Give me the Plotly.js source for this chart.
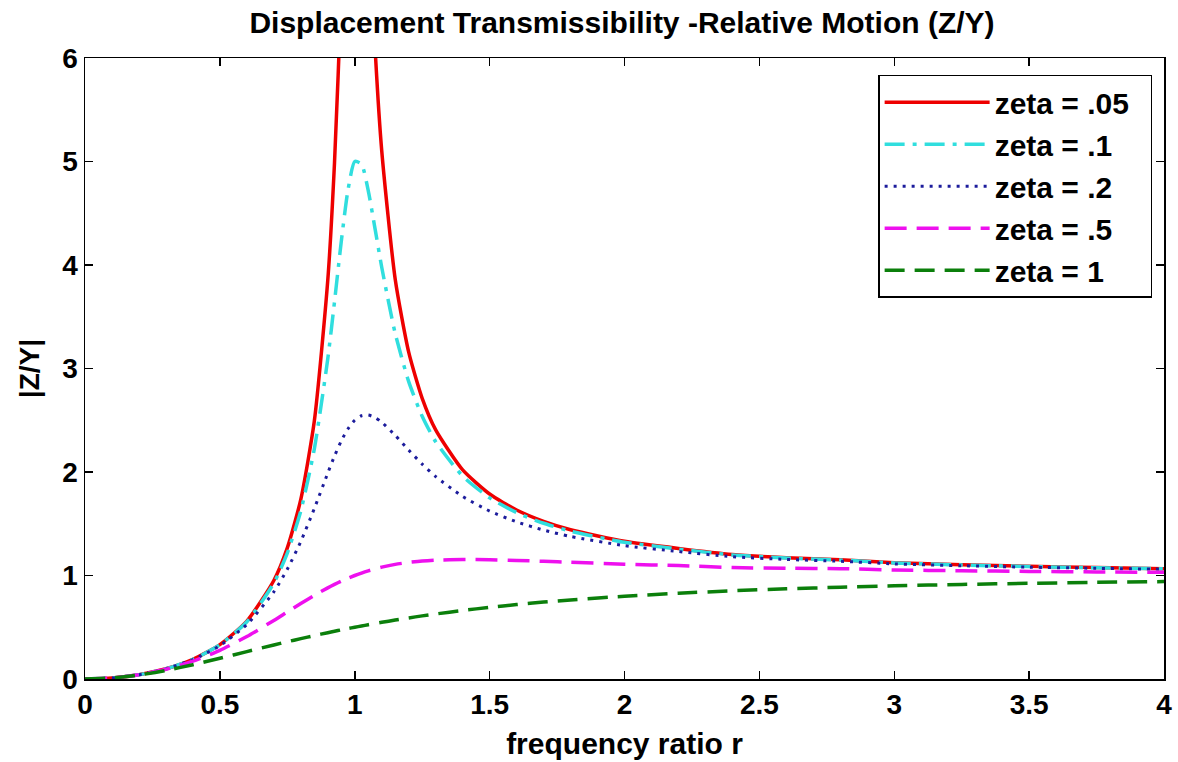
<!DOCTYPE html>
<html>
<head>
<meta charset="utf-8">
<script src="https://cdn.plot.ly/plotly-3.0.1.min.js"></script>
<style>html,body{margin:0;padding:0;background:#fff;}#chart{width:1178px;height:762px;}</style>
</head>
<body>
<div id="chart"></div>
<script>
// frequency ratio r
var r = [0, 0.1, 0.2, 0.3, 0.4, 0.5, 0.6, 0.7, 0.75, 0.8, 0.85, 0.9, 0.925, 0.95, 0.975, 1.0,
         1.025, 1.05, 1.075, 1.1, 1.15, 1.2, 1.25, 1.3, 1.4, 1.5, 1.6, 1.7, 1.8, 2.0,
         2.2, 2.4, 2.6, 2.8, 3.0, 3.25, 3.5, 3.75, 4.0];

var zeta005 = [0, 0.0101, 0.0417, 0.0989, 0.1903, 0.3326, 0.5600, 0.9518, 1.2672, 1.7355, 2.4894, 3.8528, 4.990, 6.630, 8.698, 10.0,
               9.190, 7.513, 6.110, 5.104, 3.8626, 3.1574, 2.7116, 2.4069, 2.0203, 1.7872, 1.6325, 1.5230, 1.4418, 1.3304,
               1.2616, 1.2035, 1.1724, 1.1520, 1.1242, 1.1039, 1.0884, 1.0761, 1.0663];
var zeta01 = [0, 0.0101, 0.0416, 0.0987, 0.1896, 0.3304, 0.5528, 0.9265, 1.2162, 1.6246, 2.2201, 3.0948, 3.6461, 4.2260, 4.7259, 5.0,
              4.9755, 4.7180, 4.3541, 3.9784, 3.3387, 2.8731, 2.5384, 2.2920, 1.9600, 1.7503, 1.6076, 1.5049, 1.4281, 1.3216,
              1.2554, 1.1990, 1.1689, 1.1490, 1.1219, 1.1020, 1.0868, 1.0748, 1.0651];
var zeta02 = [0, 0.0101, 0.0415, 0.0981, 0.1871, 0.3221, 0.5267, 0.8422, 1.0604, 1.3287, 1.6463, 1.9899, 2.1543, 2.3005, 2.4182, 2.5,
              2.5432, 2.5502, 2.5271, 2.4818, 2.3541, 2.2115, 2.0761, 1.9560, 1.7635, 1.6227, 1.5182, 1.4388, 1.3770, 1.2883,
              1.2316, 1.1814, 1.1549, 1.1376, 1.1125, 1.0945, 1.0806, 1.0695, 1.0607];
var zeta05 = [0, 0.0101, 0.0408, 0.0939, 0.1720, 0.2774, 0.4104, 0.5658, 0.6478, 0.7295, 0.8080, 0.8806, 0.9139, 0.9450, 0.9738, 1.0,
              1.0238, 1.0450, 1.0639, 1.0805, 1.1073, 1.1267, 1.1399, 1.1483, 1.1546, 1.1523, 1.1456, 1.1369, 1.1275, 1.1094,
              1.0958, 1.0769, 1.0697, 1.0661, 1.0534, 1.0458, 1.0397, 1.0348, 1.0307];
var zeta1 = [0, 0.0099, 0.0385, 0.0826, 0.1379, 0.2000, 0.2647, 0.3289, 0.3600, 0.3902, 0.4194, 0.4475, 0.4611, 0.4744, 0.4873, 0.5,
             0.5123, 0.5244, 0.5361, 0.5475, 0.5694, 0.5902, 0.6098, 0.6283, 0.6622, 0.6923, 0.7191, 0.7429, 0.7642, 0.8000,
             0.8288, 0.8521, 0.8711, 0.8869, 0.9000, 0.9135, 0.9245, 0.9336, 0.9412];

var names = ['zeta = .05', 'zeta = .1', 'zeta = .2', 'zeta = .5', 'zeta = 1'];
var xTicks = [0, 0.5, 1, 1.5, 2, 2.5, 3, 3.5, 4];
var xTickText = ['0', '0.5', '1', '1.5', '2', '2.5', '3', '3.5', '4'];
var yTicks = [0, 1, 2, 3, 4, 5, 6];
var yTickText = ['0', '1', '2', '3', '4', '5', '6'];

var series = [zeta005, zeta01, zeta02, zeta05, zeta1];
var styles = [
  {color: '#ee0000', width: 3.5, dash: 'solid'},
  {color: '#30dede', width: 3.5, dash: '20px,8px,4px,8px'},
  {color: '#1c1c9c', width: 3, dash: '3px,6px'},
  {color: '#ee10ee', width: 3.5, dash: '22px,10px'},
  {color: '#0b7f0b', width: 3.5, dash: '20px,10px'}
];

var traces = series.map(function (ys, i) {
  return {
    x: r, y: ys, type: 'scatter', mode: 'lines', name: '<b>' + names[i] + '</b>\u00a0\u00a0',
    legendgroup: 'g' + i,
    line: {color: styles[i].color, width: styles[i].width, dash: styles[i].dash, shape: 'spline', smoothing: 0.6},
    hoverinfo: 'skip'
  };
});

var fontFam = '"Liberation Sans", Arial, Helvetica, sans-serif';
var layout = {
  width: 1178, height: 762,
  margin: {l: 85, r: 14, t: 58, b: 83},
  paper_bgcolor: '#ffffff', plot_bgcolor: '#ffffff',
  font: {family: fontFam, color: '#000', size: 28},
  title: {text: '<b>Displacement Transmissibility -Relative Motion (Z/Y)</b>', x: 0.528, xanchor: 'center', y: 0.971, yanchor: 'middle',
          font: {family: fontFam, size: 30, color: '#000'}},
  xaxis: {
    range: [0, 4], tickmode: 'array', tickvals: xTicks, ticktext: xTickText.map(function(t){return '<b>'+t+'</b>';}),
    ticks: 'inside', ticklen: 8, tickwidth: 1.5, tickcolor: '#000',
    showline: true, linecolor: '#000', linewidth: 1.5, mirror: 'ticks',
    showgrid: false, zeroline: false,
    tickfont: {family: fontFam, size: 28, color: '#000'},
    title: {text: '<b>frequency ratio r</b>', font: {family: fontFam, size: 30, color: '#000'}, standoff: 14}
  },
  yaxis: {
    range: [0, 6], tickmode: 'array', tickvals: yTicks, ticktext: yTickText.map(function(t){return '<b>'+t+'</b>';}),
    ticks: 'inside', ticklen: 8, tickwidth: 1.5, tickcolor: '#000',
    showline: true, linecolor: '#000', linewidth: 1.5, mirror: 'ticks',
    showgrid: false, zeroline: false,
    tickfont: {family: fontFam, size: 28, color: '#000'},
    title: {text: '<b>|Z/Y|</b>', font: {family: fontFam, size: 28, color: '#000'}, standoff: 14}
  },
  showlegend: true,
  legend: {
    x: 0.989, xanchor: 'right', y: 0.973, yanchor: 'top',
    bgcolor: '#ffffff', bordercolor: '#000', borderwidth: 1.5,
    font: {family: fontFam, size: 30, color: '#000'},
    itemwidth: 105, tracegroupgap: 1, traceorder: 'normal'
  }
};

Plotly.newPlot('chart', traces, layout, {displayModeBar: false, staticPlot: true});
</script>
</body>
</html>
